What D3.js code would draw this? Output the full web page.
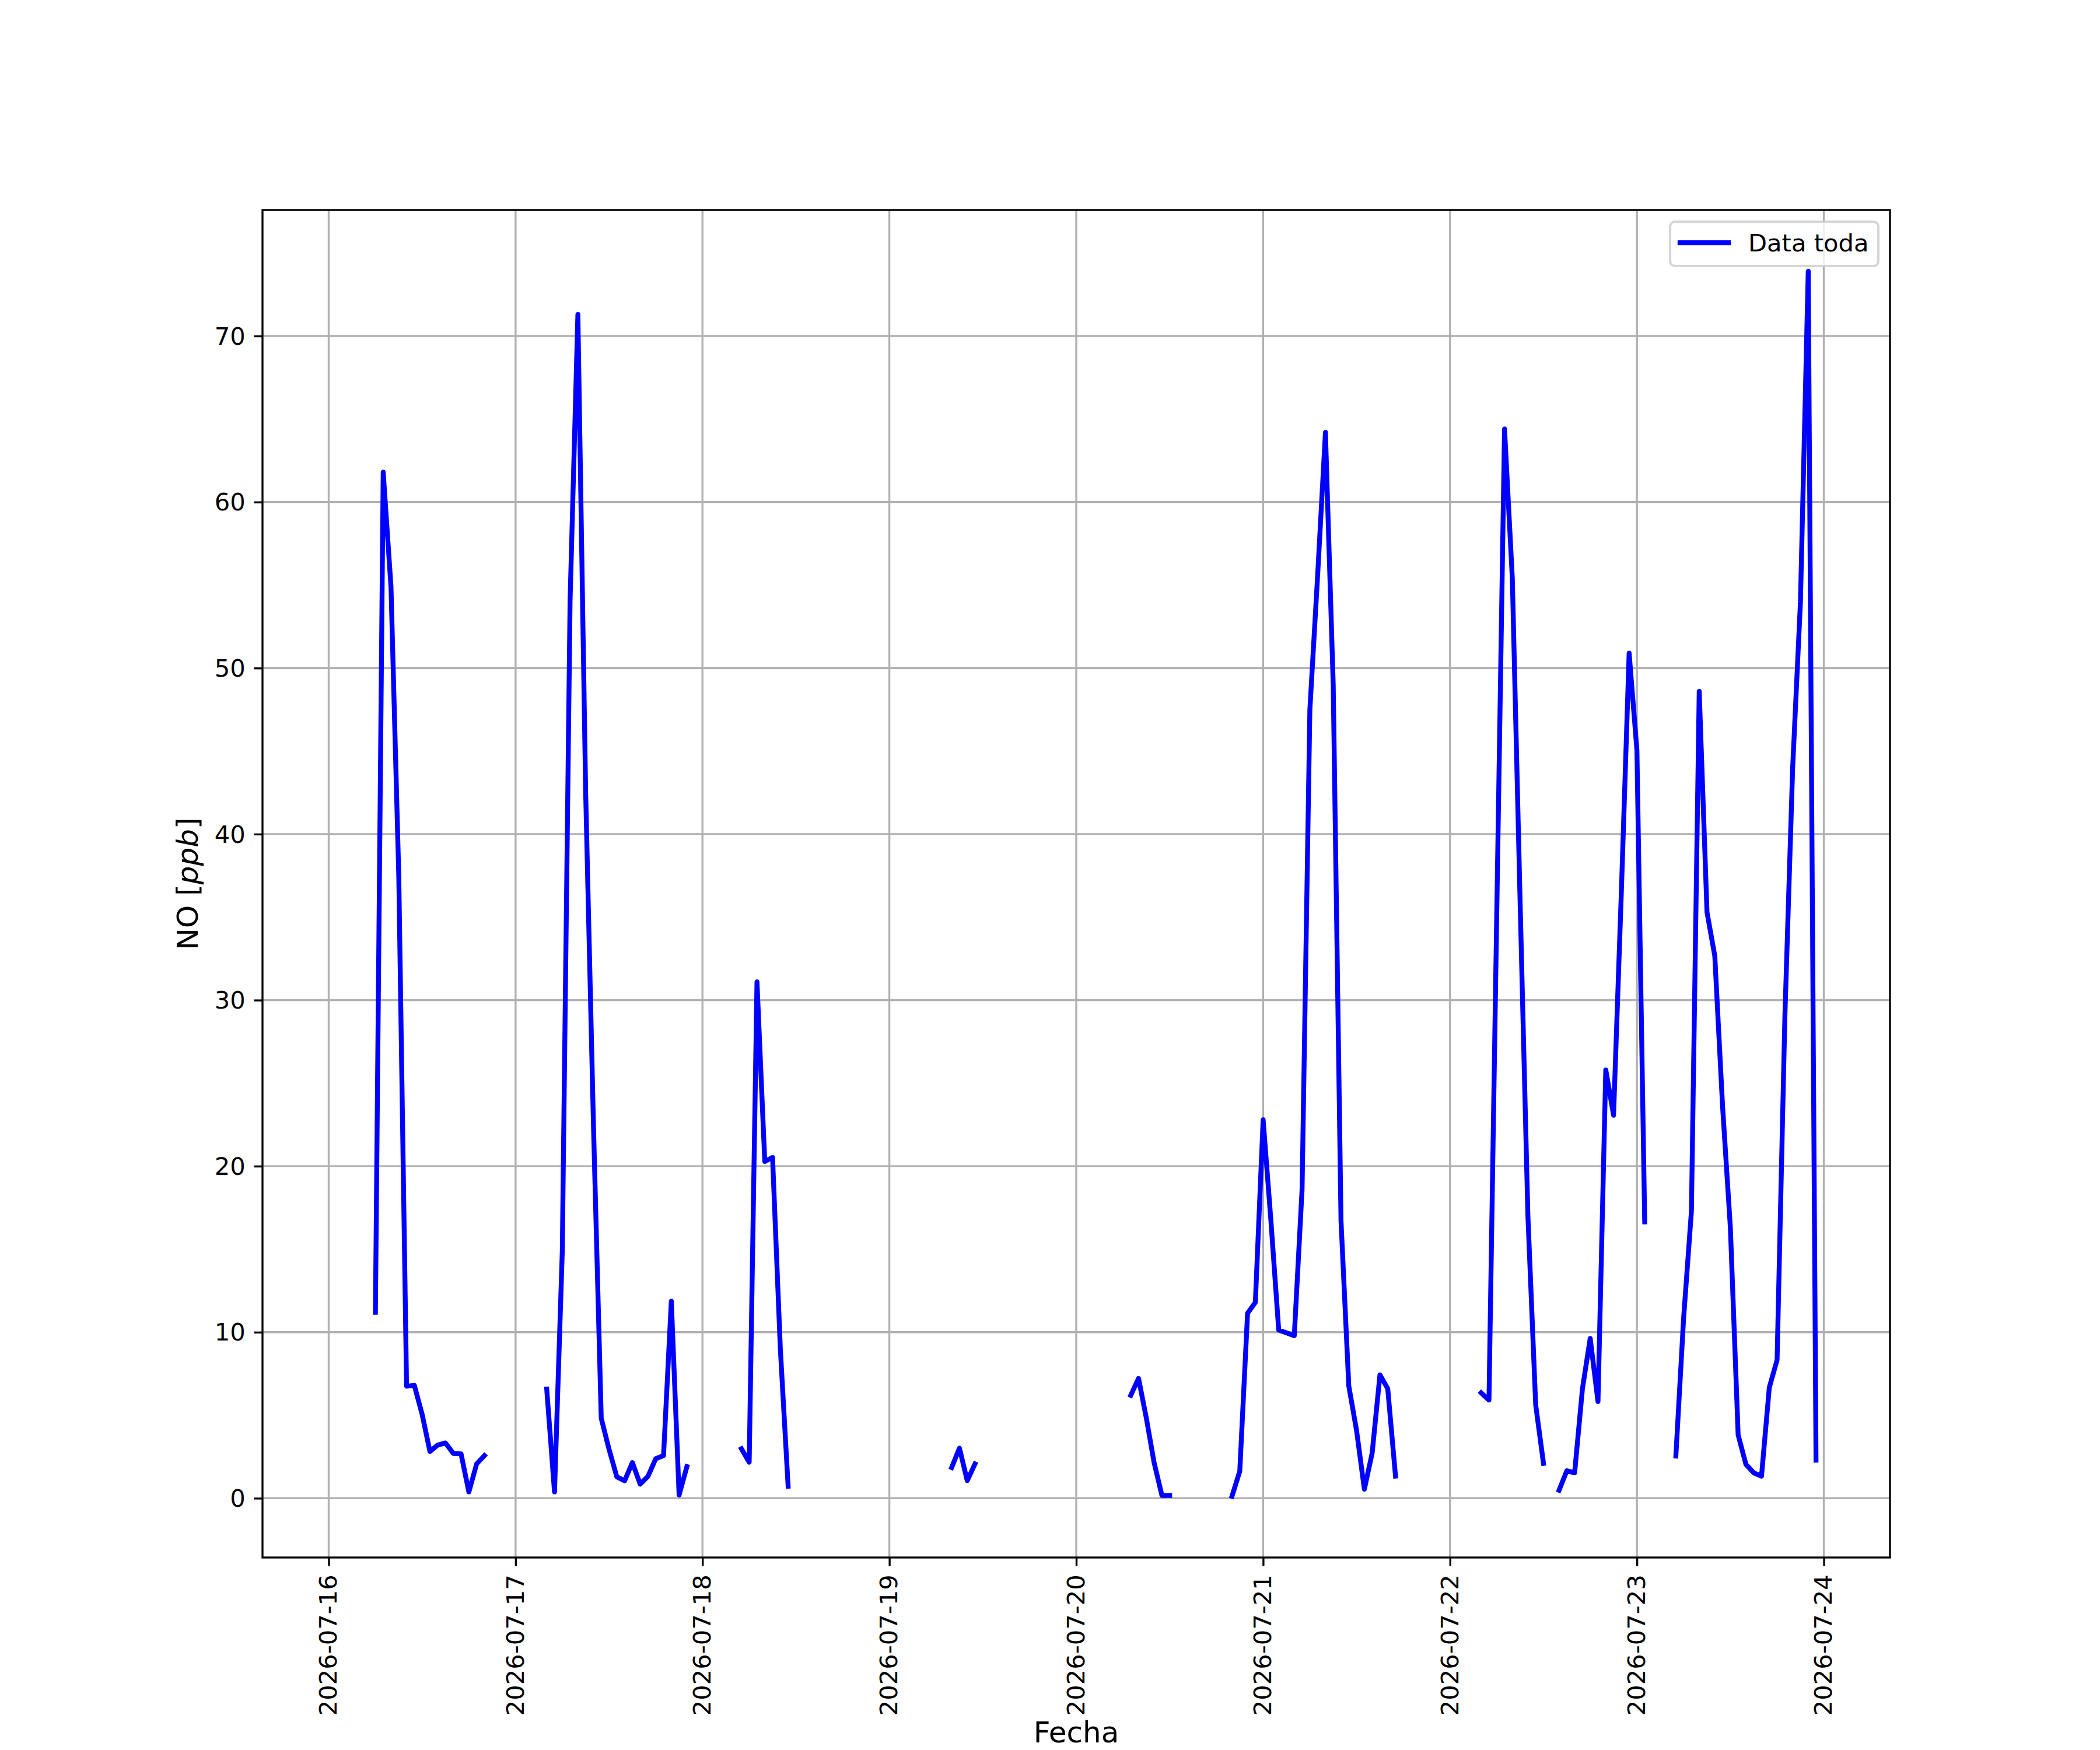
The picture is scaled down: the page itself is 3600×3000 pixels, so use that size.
<!DOCTYPE html>
<html>
<head>
<meta charset="utf-8">
<script src="https://cdn.jsdelivr.net/npm/d3@7"></script>
<style>
    body { margin: 0; background: #ffffff; }
    svg { display: block; }
    text { font-family: "DejaVu Sans", sans-serif; fill: #000000; }
</style>
</head>
<body>
<svg width="3600" height="3000"></svg>
<script>
/*global d3*/
// NO por hora, un arreglo por dia (null = sin dato)
var dias = ["2026-07-16", "2026-07-17", "2026-07-18", "2026-07-19",
    "2026-07-20", "2026-07-21", "2026-07-22", "2026-07-23"];
var tickLabels = ["2026-07-16", "2026-07-17", "2026-07-18", "2026-07-19",
    "2026-07-20", "2026-07-21", "2026-07-22", "2026-07-23", "2026-07-24"];
var yTicks = [0, 10, 20, 30, 40, 50, 60, 70];

// el registro empieza el 16 a las 01:00
var no16 = [null, null, null, null, null, 11.2, 61.8, 54.9, 37.5, 6.75, 6.8, 5.05,
    2.82, 3.2, 3.33, 2.7, 2.67, 0.38, 2.07, 2.57, null, null, null];
var no17 = [null, null, null, null, 6.57, 0.38, 14.9, 54.1, 71.3, 42.5, 22.5, 4.82,
    2.95, 1.29, 1.05, 2.15, 0.85, 1.32, 2.38, 2.57, 11.87, 0.19, 1.91, null];
var no18 = [null, null, null, null, null, 2.98, 2.17, 31.1, 20.28, 20.53, 8.99, 0.72,
    null, null, null, null, null, null, null, null, null, null, null, null];
var no19 = [null, null, null, null, null, null, null, null, 1.85, 3.02, 1.06, 2.07,
    null, null, null, null, null, null, null, null, null, null, null, null];
var no20 = [null, null, null, null, null, null, null, 6.2, 7.22, 4.83, 2.14, 0.17,
    0.17, null, null, null, null, null, null, null, 0.12, 1.63, 11.14, 11.8];
var no21 = [22.8, 16.7, 10.13, 9.96, 9.79, 18.6, 47.5, 55.6, 64.2, 49.0, 16.7, 6.76,
    4.07, 0.54, 2.72, 7.43, 6.6, 1.33, null, null, null, null, null, null];
var no22 = [null, null, null, null, 6.35, 5.91, 35.2, 64.4, 55.4, 35.9, 17, 5.62,
    2.1, null, 0.48, 1.66, 1.53, 6.58, 9.63, 5.82, 25.8, 23.07, 36.5, 50.9];
var no23 = [45.05, 16.64, null, null, null, 2.54, 10.87, 17.3, 48.6, 35.3, 32.66, 23.6,
    16.3, 3.81, 2.04, 1.53, 1.33, 6.67, 8.33, 29.0, 44.0, 54.0, 73.9, 2.29];

(function () {
    'use strict';

    var pt = 300 / 72;
    var left = 450, right = 3240, top = 360, bottom = 2670;
    var parse = d3.utcParse("%Y-%m-%d");
    var porDia = [no16, no17, no18, no19, no20, no21, no22, no23];

    var data = [];
    porDia.forEach(function (vals, i) {
        var h0 = i === 0 ? 1 : 0;
        vals.forEach(function (v, j) {
            data.push({ t: d3.utcHour.offset(parse(dias[i]), h0 + j), v: v });
        });
    });

    // margenes de 5% como matplotlib
    var tExt = d3.extent(data, function (d) { return d.t; });
    var tPad = (tExt[1] - tExt[0]) * 0.05;
    var vExt = d3.extent(data.filter(function (d) { return d.v !== null; }), function (d) { return d.v; });
    var vPad = (vExt[1] - vExt[0]) * 0.05;

    var x = d3.scaleUtc()
        .domain([new Date(+tExt[0] - tPad), new Date(+tExt[1] + tPad)])
        .range([left, right]);
    var y = d3.scaleLinear()
        .domain([vExt[0] - vPad, vExt[1] + vPad])
        .range([bottom, top]);

    var svg = d3.select("svg");
    svg.append("rect").attr("width", 3600).attr("height", 3000).attr("fill", "#ffffff");

    var xTickDates = tickLabels.map(parse);

    // grid
    var grid = svg.append("g").attr("class", "grid")
        .attr("stroke", "#b0b0b0").attr("stroke-width", 0.8 * pt);
    grid.selectAll(".gx").data(xTickDates).enter().append("line")
        .attr("x1", function (d) { return x(d); })
        .attr("x2", function (d) { return x(d); })
        .attr("y1", top).attr("y2", bottom);
    grid.selectAll(".gy").data(yTicks).enter().append("line")
        .attr("y1", function (d) { return y(d); })
        .attr("y2", function (d) { return y(d); })
        .attr("x1", left).attr("x2", right);

    // serie
    var line = d3.line()
        .defined(function (d) { return d.v !== null; })
        .x(function (d) { return x(d.t); })
        .y(function (d) { return y(d.v); });

    svg.append("path")
        .datum(data)
        .attr("d", line)
        .attr("fill", "none")
        .attr("stroke", "#0000ff")
        .attr("stroke-width", 2 * pt)
        .attr("stroke-linejoin", "round")
        .attr("stroke-linecap", "square");

    // ejes
    var xAxis = d3.axisBottom(x)
        .tickValues(xTickDates)
        .tickFormat(function (d, i) { return tickLabels[i]; })
        .tickSize(3.5 * pt)
        .tickPadding(3.5 * pt);
    var gx = svg.append("g")
        .attr("transform", "translate(0," + bottom + ")")
        .call(xAxis);
    gx.select(".domain").remove();
    gx.selectAll(".tick line").attr("stroke", "#000").attr("stroke-width", 0.8 * pt);
    gx.selectAll(".tick text")
        .attr("y", null).attr("dy", null)
        .attr("font-size", 10 * pt)
        .attr("font-family", "DejaVu Sans")
        .attr("text-anchor", "end")
        .attr("transform", "translate(0," + (7 * pt) + ") rotate(-90)")
        .attr("dy", "0.32em");

    var yAxis = d3.axisLeft(y)
        .tickValues(yTicks)
        .tickSize(3.5 * pt)
        .tickPadding(3.5 * pt);
    var gy = svg.append("g")
        .attr("transform", "translate(" + left + ",0)")
        .call(yAxis);
    gy.select(".domain").remove();
    gy.selectAll(".tick line").attr("stroke", "#000").attr("stroke-width", 0.8 * pt);
    gy.selectAll(".tick text")
        .attr("font-size", 10 * pt)
        .attr("font-family", "DejaVu Sans")
        .attr("dy", "0.34em");

    // marco
    svg.append("rect")
        .attr("x", left).attr("y", top)
        .attr("width", right - left).attr("height", bottom - top)
        .attr("fill", "none").attr("stroke", "#000").attr("stroke-width", 0.8 * pt);

    // titulos de ejes
    svg.append("text")
        .attr("x", (left + right) / 2).attr("y", 2987)
        .attr("text-anchor", "middle")
        .attr("font-size", 12 * pt)
        .text("Fecha");

    var yl = svg.append("text")
        .attr("transform", "translate(339," + ((top + bottom) / 2) + ") rotate(-90)")
        .attr("text-anchor", "middle")
        .attr("font-size", 12 * pt);
    yl.append("tspan").text("NO [");
    yl.append("tspan").attr("font-style", "italic").text("ppb");
    yl.append("tspan").text("]");

    // leyenda
    var lg = svg.append("g");
    lg.append("rect")
        .attr("x", 2863).attr("y", 380)
        .attr("width", 357).attr("height", 76)
        .attr("rx", 8.3).attr("ry", 8.3)
        .attr("fill", "#ffffff").attr("fill-opacity", 0.8)
        .attr("stroke", "#cccccc").attr("stroke-opacity", 0.8)
        .attr("stroke-width", 1 * pt);
    lg.append("line")
        .attr("x1", 2880).attr("x2", 2963)
        .attr("y1", 416).attr("y2", 416)
        .attr("stroke", "#0000ff").attr("stroke-width", 2 * pt)
        .attr("stroke-linecap", "square");
    lg.append("text")
        .attr("x", 2997).attr("y", 431)
        .attr("font-size", 10 * pt)
        .text("Data toda");
}());
</script>
</body>
</html>
